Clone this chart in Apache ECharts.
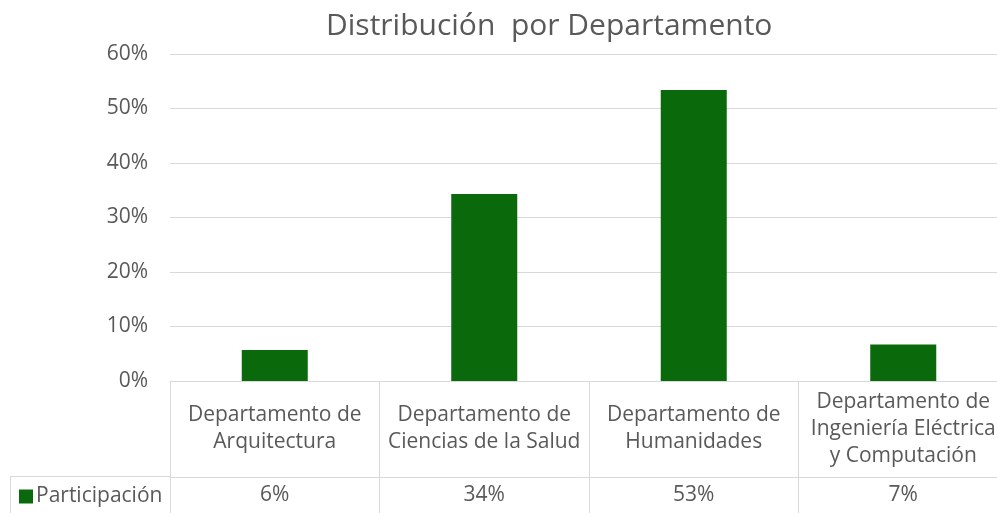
<!DOCTYPE html>
<html><head><meta charset="utf-8">
<script src="https://cdn.jsdelivr.net/npm/echarts@6/dist/echarts.min.js"></script>
<style>html,body{margin:0;padding:0;background:#fff}#c{width:997px;height:513px}</style>
</head><body><div id="c"></div>
<script>
const categories = ['Departamento de Arquitectura', 'Departamento de Ciencias de la Salud', 'Departamento de Humanidades', 'Departamento de Ingeniería Eléctrica y Computación'];
const categoryLabels = ['Departamento de\nArquitectura', 'Departamento de\nCiencias de la Salud', 'Departamento de\nHumanidades', 'Departamento de\nIngeniería Eléctrica\ny Computación'];
const participacion = [0.057, 0.343, 0.534, 0.067];
const tableLabels = ['6%', '34%', '53%', '7%'];
const yTicks = [0, 0.1, 0.2, 0.3, 0.4, 0.5, 0.6];
const seriesName = 'Participación';
const titleText = 'Distribución  por Departamento';

const FONT = 'Open Sans';
const TXT = '#595959';
const LINE = '#d9d9d9';
const chart = echarts.init(document.getElementById('c'), null, {renderer: 'canvas'});
chart.setOption({
  animation: false,
  textStyle: {fontFamily: FONT},
  title: {text: titleText, left: 321, top: 6, textStyle: {fontFamily: FONT, fontSize: 30, fontWeight: 'normal', color: TXT}},
  legend: {data: [seriesName], left: 14, top: 481, icon: 'rect', itemWidth: 14, itemHeight: 14, itemGap: 0,
    textStyle: {fontFamily: FONT, fontSize: 21, color: TXT, padding: [0, 0, 0, -2]}},
  grid: {left: 170, top: 54, width: 838, height: 327, containLabel: false, outerBoundsMode: 'none'},
  xAxis: [{
    type: 'category', data: categories, position: 'bottom',
    axisLine: {show: true, lineStyle: {color: LINE, width: 1}},
    axisTick: {show: true, length: 140, lineStyle: {color: LINE, width: 1}},
    axisLabel: {interval: 0, fontFamily: FONT, fontSize: 21, color: TXT, lineHeight: 27,
      align: 'center', verticalAlign: 'middle', margin: 48,
      formatter: (v, i) => categoryLabels[i]},
    splitLine: {show: false}
  }, {
    type: 'category', data: categories, position: 'bottom', offset: 96,
    axisLine: {show: true, lineStyle: {color: LINE, width: 1}},
    axisTick: {show: false},
    axisLabel: {interval: 0, fontFamily: FONT, fontSize: 21, color: TXT, verticalAlign: 'middle', margin: 18,
      formatter: (v, i) => tableLabels[i]}
  }],
  yAxis: {
    type: 'value', min: yTicks[0], max: yTicks[yTicks.length - 1], interval: 0.1,
    axisLine: {show: false}, axisTick: {show: false},
    splitLine: {lineStyle: {color: LINE, width: 1}},
    axisLabel: {fontFamily: FONT, fontSize: 21, color: TXT, margin: 22, formatter: v => Math.round(v * 100) + '%'}
  },
  series: [{
    name: seriesName, type: 'bar', xAxisIndex: 0, data: participacion, barWidth: 66,
    itemStyle: {color: '#0a6a0b'}
  }],
  graphic: [
    {type: 'line', shape: {x1: 10, y1: 476.5, x2: 170, y2: 476.5}, style: {stroke: LINE, lineWidth: 1}, silent: true},
    {type: 'line', shape: {x1: 10.5, y1: 476, x2: 10.5, y2: 513}, style: {stroke: LINE, lineWidth: 1}, silent: true}
  ]
});
</script></body></html>
